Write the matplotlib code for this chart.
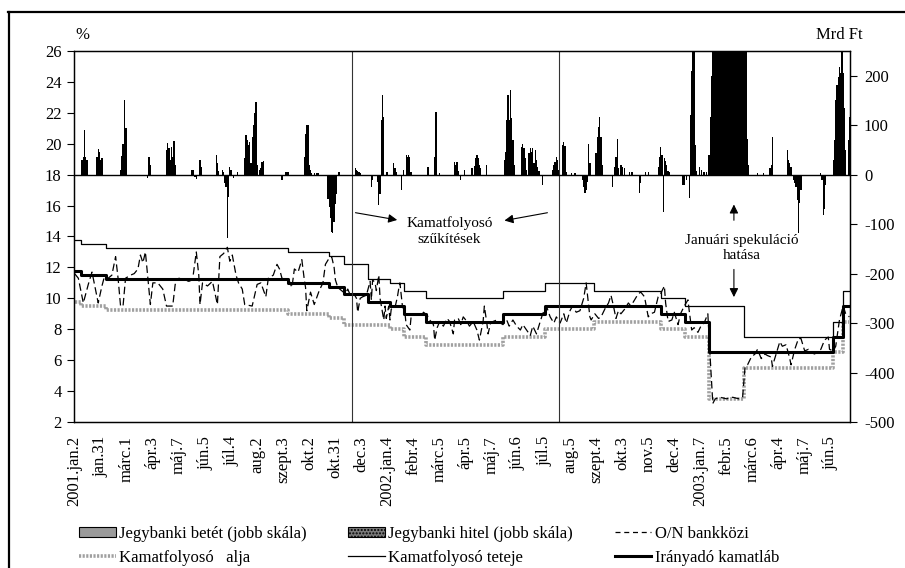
import matplotlib
matplotlib.use('Agg')
import matplotlib.pyplot as plt
from matplotlib.patches import Patch
from matplotlib.lines import Line2D
import numpy as np

plt.rcParams['font.family'] = 'Liberation Serif'
plt.rcParams['font.size'] = 12
plt.rcParams['axes.unicode_minus'] = False

# trading days from 2001.jan.2, labelled every 21st day
N_DAYS = 625
LABEL_STEP = 21
date_labels = [
    "2001.jan.2", "jan.31", "márc.1", "ápr.3", "máj.7", "jún.5", "júl.4", "aug.2",
    "szept.3", "okt.2", "okt.31", "dec.3", "2002.jan.4", "febr.4", "márc.5", "ápr.5",
    "máj.7", "jún.6", "júl.5", "aug.5", "szept.4", "okt.3", "nov.5", "dec.4",
    "2003.jan.7", "febr.5", "márc.6", "ápr.4", "máj.7", "jún.5",
]

# corridor narrowing dates (day index)
narrowing_days = [223.5, 390.5]

# central bank base rate (%), step changes
base_start = [0, 5, 25, 172, 205, 217, 236, 254, 265, 283, 345, 379, 472, 492, 511, 611, 619]
base_rate = [11.75, 11.5, 11.25, 11.0, 10.75, 10.25, 9.75, 9.5, 9.0, 8.5, 9.0, 9.5, 9.0, 8.5, 6.5, 7.5, 9.5]

# corridor top (%)
top_start = [0, 5, 25, 172, 205, 217, 236, 254, 265, 283, 345, 379, 418, 472, 492, 539, 611, 619]
top_rate = [13.75, 13.5, 13.25, 13.0, 12.75, 12.25, 11.25, 11.0, 10.5, 10.0, 10.5, 11.0, 10.5, 10.0, 9.5, 7.5, 8.5, 10.5]

# corridor bottom (%)
bottom_start = [0, 5, 25, 172, 205, 217, 254, 265, 283, 345, 379, 418, 472, 492, 511, 539, 611, 619]
bottom_rate = [9.75, 9.5, 9.25, 9.0, 8.75, 8.25, 8.0, 7.5, 7.0, 7.5, 8.0, 8.5, 8.0, 7.5, 3.5, 5.5, 6.5, 8.5]

# O/N interbank rate (%)
on_day = [
    0, 3, 7, 11, 14, 17, 19, 22, 24, 27, 30, 33, 35, 37, 39, 41, 45, 48, 51, 53,
    55, 57, 59, 61, 63, 67, 71, 74, 79, 81, 84, 88, 92, 95, 98, 100, 101, 103, 107, 111,
    115, 117, 120, 123, 125, 127, 130, 132, 135, 137, 143, 147, 150, 154, 156, 160, 163, 165, 167, 170,
    173, 175, 177, 180, 183, 185, 186, 187, 190, 193, 197, 200, 202, 205, 207,
    209, 210, 212, 215, 218, 220, 222, 225, 227, 228, 230, 232, 235, 238, 239, 240, 242, 243, 245, 246,
    249, 250, 251, 253, 254, 255, 258, 260, 261, 262, 264, 265, 266, 267, 270, 271, 273, 276, 278, 281,
    284, 286, 289, 290, 292, 294, 297, 300, 302, 305, 306, 309, 311, 313, 316, 318, 321, 324, 326, 328,
    329, 330, 332, 333, 335, 337, 340, 343, 345, 348, 350, 353, 356, 359, 361, 364, 367, 369, 372, 375,
    377, 380, 383, 386, 388, 391, 394, 396, 399, 401, 404, 407, 410, 412, 414, 415,
    416, 419, 422, 424, 427, 430, 432, 434, 436, 438, 440, 443, 446, 448, 451, 454, 456, 459, 462, 464,
    467, 470, 472, 475, 476, 478, 481, 483, 486, 488, 491, 494, 495, 497, 499, 502, 505, 507, 509, 510,
    512, 514, 516, 520, 525, 530, 535, 538, 540, 542, 545, 548, 550, 553, 556, 558, 561, 562, 565, 568,
    570, 573, 576, 577, 580, 583, 585, 588, 591, 593, 596, 599, 601, 604, 607, 608, 611, 613, 616, 619,
    621, 624,
]
on_rate = [
    11.6, 11.3, 9.7, 10.9, 11.7, 10.5, 9.7, 10.8, 11.4, 11.3, 11.5, 12.7, 11.3, 9.5, 9.5, 11.3, 11.5, 11.6, 11.9, 12.8,
    12.3, 13.0, 11.3, 9.6, 11.0, 11.0, 10.6, 9.5, 9.5, 10.9, 11.3, 11.2, 11.1, 11.2, 13.0, 11.5, 9.6, 11.0, 10.8, 11.1,
    9.6, 12.7, 12.9, 13.3, 12.4, 12.8, 11.5, 11.0, 10.6, 9.6, 9.5, 10.9, 11.0, 10.1, 11.3, 11.5, 12.2, 11.9, 11.3, 11.2,
    11.1, 10.7, 11.9, 11.7, 12.5, 11.2, 10.7, 9.2, 10.4, 9.6, 10.5, 11.0, 12.2, 12.6, 12.7,
    12.0, 11.2, 10.7, 10.5, 10.3, 10.6, 10.2, 10.3, 10.0, 9.1, 10.0, 10.1, 10.2, 11.1, 9.9, 11.2, 11.0, 10.5, 11.5, 10.0,
    8.6, 9.5, 8.7, 9.5, 8.6, 9.3, 9.4, 10.1, 10.6, 11.0, 9.5, 9.3, 9.1, 8.3, 7.95, 8.8, 9.0, 8.9, 8.9, 9.1,
    8.9, 8.6, 8.3, 7.3, 8.1, 8.5, 8.2, 8.7, 8.5, 7.7, 8.6, 8.7, 8.3, 8.8, 8.5, 8.2, 8.5, 7.95, 7.3, 8.1,
    8.5, 9.5, 8.4, 7.7, 8.4, 8.5, 8.6, 8.4, 8.3, 8.6, 8.2, 8.6, 8.2, 7.95, 8.3, 7.95, 7.6, 8.2, 7.7, 8.5,
    9.0, 9.5, 8.8, 8.4, 8.8, 8.4, 9.0, 8.4, 9.2, 9.5, 9.1, 9.2, 10.0, 11.0, 9.5, 8.8,
    8.6, 9.0, 8.7, 8.8, 9.3, 9.7, 10.2, 9.5, 8.7, 9.2, 9.0, 9.3, 9.7, 9.5, 9.9, 10.3, 10.4, 10.1, 8.8, 9.0,
    9.1, 10.1, 10.3, 10.8, 9.7, 8.5, 8.6, 9.1, 8.3, 9.0, 9.5, 9.9, 9.2, 7.95, 8.1, 7.8, 8.3, 8.4, 8.8, 9.0,
    6.0, 3.2, 3.5, 3.6, 3.5, 3.6, 3.5, 3.6, 5.6, 5.7, 6.2, 6.4, 6.7, 6.1, 6.4, 6.3, 6.2, 5.6, 6.4, 7.2,
    6.9, 7.0, 6.1, 5.7, 6.7, 7.4, 7.4, 6.6, 6.7, 6.5, 6.4, 6.6, 6.7, 7.3, 7.5, 6.7, 6.6, 6.9, 8.6, 9.5,
    9.0, 8.8,
]

# deposits at the central bank (Mrd Ft, right scale)
deposit_day = [
    6, 7, 8, 9, 10, 18, 19, 20, 21, 22, 37, 38, 39, 40, 41, 42, 60, 61,
    74, 75, 76, 77, 78, 79, 80, 81, 94, 95, 96, 101, 102, 114, 115, 116, 119, 120, 125, 126, 131,
    137, 138, 139, 140, 141, 142, 143, 144, 145, 146, 147, 149, 150, 151, 152, 170, 171, 172,
    185, 186, 187, 188, 189, 190, 191, 193, 195, 196, 213,
    226, 227, 228, 229, 230, 247, 248, 249, 251, 252, 257, 258, 259, 265,
    267, 268, 269, 270, 271, 284, 285, 290, 291, 294, 306, 307, 308, 309,
    314, 320, 322, 323, 324, 325, 326, 327, 332,
    346, 347, 348, 349, 350, 351, 352, 353, 354, 360, 361, 362, 363, 364,
    366, 367, 368, 369, 370, 371, 372, 373, 374, 385, 386, 387, 388, 389, 390,
    393, 394, 395, 396, 400, 403, 414, 415, 420, 421, 422, 423, 424, 425,
    435, 436, 437, 438, 440, 441, 443, 447, 449, 460, 462,
    470, 471, 472, 473, 475, 476, 477, 478, 479,
    496, 497, 498, 499, 500, 501, 503, 505, 507, 509,
    511, 512, 513, 514, 515, 516, 517, 518, 519, 520, 521, 522, 523, 524, 525, 526, 527,
    528, 529, 530, 531, 532, 533, 534, 535, 536, 537, 538, 539, 540, 541, 542, 543,
    550, 555, 560, 561, 562, 574, 575, 576, 577, 601,
    611, 612, 613, 614, 615, 616, 617, 618, 619, 620, 621, 623, 624,
]
deposit_amt = [
    30, 35, 90, 35, 30, 35, 51, 45, 30, 33, 10, 37, 62, 150, 94, 94, 36, 20,
    50, 65, 53, 30, 56, 36, 68, 20, 9, 9, 9, 30, 15, 40, 23, 8, 9, 6, 16, 9, 6,
    33, 80, 70, 60, 67, 24, 77, 100, 124, 147, 20, 9, 13, 26, 28, 6, 6, 6,
    36, 83, 100, 100, 20, 10, 4, 4, 4, 3, 5,
    13, 10, 8, 6, 4, 110, 161, 117, 6, 5, 23, 13, 6, 10,
    40, 36, 40, 36, 5, 16, 16, 36, 127, 4, 26, 20, 26, 8,
    9, 13, 17, 33, 40, 33, 20, 13, 20,
    30, 46, 110, 161, 110, 171, 114, 70, 20, 56, 63, 53, 33, 10,
    43, 53, 46, 53, 23, 50, 30, 16, 8, 10, 20, 26, 36, 30, 10,
    60, 67, 57, 5, 3, 4, 63, 23, 43, 77, 97, 117, 77, 20,
    16, 36, 73, 13, 20, 16, 13, 6, 5, 5, 6,
    16, 36, 56, 40, 33, 28, 20, 8, 5,
    120, 210, 280, 300, 60, 8, 15, 10, 6, 5,
    40, 117, 200, 420, 560, 700, 820, 900, 950, 980, 1000, 990, 970, 940, 900, 870, 840,
    800, 760, 720, 680, 640, 600, 560, 520, 480, 440, 400, 360, 320, 280, 73, 20,
    3, 3, 13, 20, 77, 50, 30, 23, 16, 4,
    30, 70, 151, 181, 198, 218, 205, 260, 205, 134, 50, 70, 117,
]

# central bank credit (Mrd Ft, right scale)
credit_day = [
    59, 97, 98, 121, 122, 123, 124, 128, 167,
    204, 205, 206, 207, 208, 209, 210, 211, 239, 240, 244, 245, 246, 263,
    311, 377, 409, 410, 411, 412, 413, 433, 455, 456, 474,
    490, 491, 493, 495, 579, 580, 581, 582, 583, 584, 585, 602, 603, 604, 605,
]
credit_amt = [
    -7, -4, -8, -17, -24, -128, -45, -6, -11,
    -50, -65, -88, -115, -118, -95, -60, -40, -24, -10, -15, -61, -40, -31,
    -11, -21, -10, -24, -38, -30, -15, -24, -38, -17, -75,
    -21, -21, -11, -48, -11, -17, -24, -51, -118, -58, -30, -10, -82, -70, -20,
]


def step_series(starts, values):
    xs = list(starts) + [N_DAYS - 1]
    ys = list(values) + [values[-1]]
    return xs, ys


fig = plt.figure(figsize=(9.05, 5.68), dpi=100)
ax = fig.add_axes([74 / 905, 1 - 422 / 568, 776 / 905, 371 / 568])
ax2 = ax.twinx()

# bars on the right scale
ax2.bar(deposit_day, deposit_amt, width=1.0, color='black', linewidth=0)
ax2.bar(credit_day, credit_amt, width=1.0, color='black', linewidth=0)
ax2.axhline(0, color='black', lw=1.0)
ax2.set_ylim(-500, 250)
ax2.set_yticks(range(-500, 201, 100))

# interest rate lines on the left scale
x, y = step_series(bottom_start, bottom_rate)
ax.plot(x, y, drawstyle='steps-post', color='#a0a0a0', lw=2.6, ls=(0, (0.6, 0.4)))
x, y = step_series(top_start, top_rate)
ax.plot(x, y, drawstyle='steps-post', color='black', lw=0.9)
ax.plot(on_day, on_rate, color='black', lw=0.9, ls=(0, (6, 3)))
x, y = step_series(base_start, base_rate)
ax.plot(x, y, drawstyle='steps-post', color='black', lw=2.2)

for d in narrowing_days:
    ax.axvline(d, color='#333333', lw=0.8)

ax.set_xlim(-0.5, N_DAYS - 0.5)
ax.set_ylim(2, 26)
ax.set_yticks(range(2, 27, 2))
ax.set_xticks(np.arange(0, N_DAYS, LABEL_STEP))
ax.set_xticklabels(date_labels, rotation=90, fontsize=12)
ax.tick_params(axis='x', length=0, pad=10)
ax.tick_params(axis='y', direction='out', length=5, labelsize=12, pad=4)
ax2.tick_params(axis='y', direction='out', length=5, labelsize=12, pad=5)
for a in (ax, ax2):
    for s in a.spines.values():
        s.set_linewidth(0.9)
        s.set_color('black')

# annotations
arrow = dict(arrowstyle='-|>', color='black', lw=0.8, mutation_scale=13)
ax.text(302, 14.35, "Kamatfolyosó\nszűkítések", ha='center', va='center',
        fontsize=11, linespacing=1.25)
ax.annotate("", xy=(262, 15.04), xytext=(224, 15.57), arrowprops=arrow)
ax.annotate("", xy=(344, 15.0), xytext=(383, 15.57), arrowprops=arrow)
ax.text(537, 13.26, "Januári spekuláció\nhatása", ha='center', va='center',
        fontsize=11, linespacing=1.25)
ax.annotate("", xy=(531, 16.25), xytext=(531, 14.87), arrowprops=arrow)
ax.annotate("", xy=(531, 9.9), xytext=(531, 12.05), arrowprops=arrow)

fig.text(75 / 905, 1 - 35 / 568, "%", ha='left', va='center', fontsize=12)
fig.text(863 / 905, 1 - 35 / 568, "Mrd Ft", ha='right', va='center', fontsize=12)

# legend, filled row by row across three columns
handles = [
    Patch(facecolor='#9a9a9a', edgecolor='black', lw=0.8),
    Line2D([], [], color='#a0a0a0', lw=2.6, ls=(0, (0.6, 0.4))),
    Patch(facecolor='#7a7a7a', edgecolor='black', lw=0.8, hatch='.....'),
    Line2D([], [], color='black', lw=0.9),
    Line2D([], [], color='black', lw=0.9, ls=(0, (4, 3))),
    Line2D([], [], color='black', lw=2.2),
]
labels = [
    "Jegybanki betét (jobb skála)", "Kamatfolyosó   alja",
    "Jegybanki hitel (jobb skála)", "Kamatfolyosó teteje",
    "O/N bankközi", "Irányadó kamatláb",
]
fig.legend(handles, labels, ncol=3, loc='upper left',
           bbox_to_anchor=(79 / 905, 1 - 526 / 568), frameon=False,
           fontsize=12, handlelength=2.2, handleheight=0.6, handletextpad=0.2,
           columnspacing=2.5, labelspacing=0.47, borderpad=0, borderaxespad=0)

# outer frame
fig.add_artist(Line2D([8.5 / 905, 8.5 / 905], [0, 1 - 12 / 568], color='black', lw=1.6))
fig.add_artist(Line2D([8 / 905, 1], [1 - 12 / 568, 1 - 12 / 568], color='black', lw=1.6))

fig.savefig('out.png', dpi=100)
